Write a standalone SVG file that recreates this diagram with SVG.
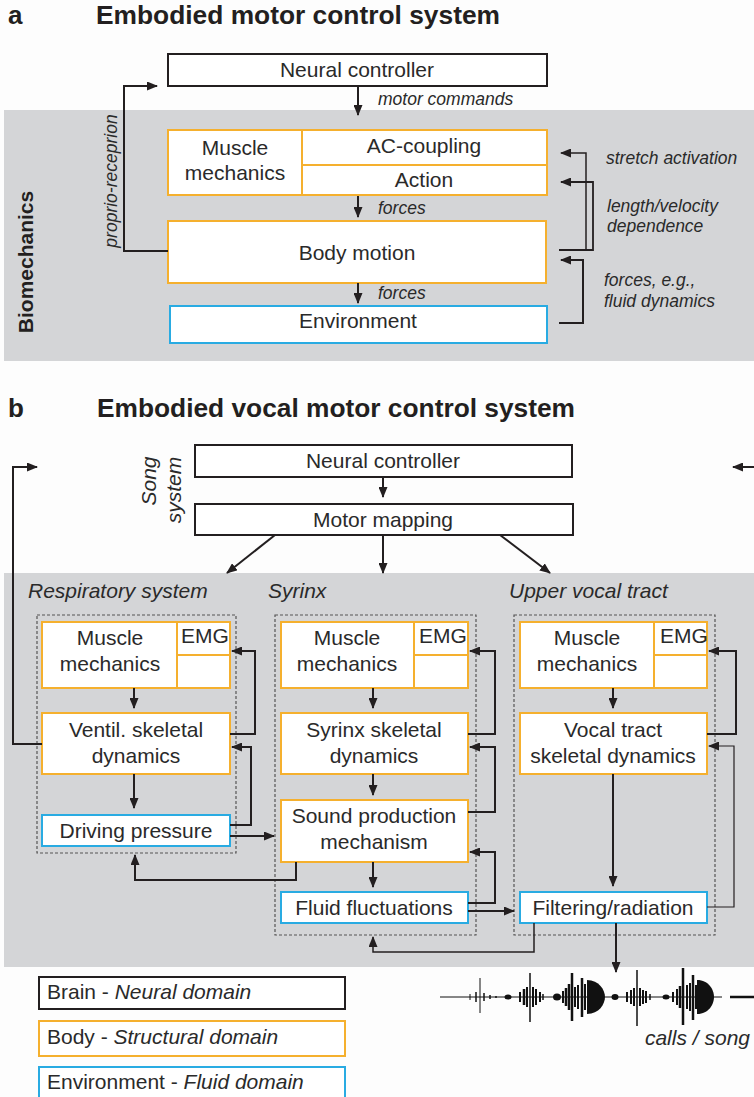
<svg xmlns="http://www.w3.org/2000/svg" width="754" height="1097" viewBox="0 0 754 1097">
<defs>
<marker id="ah" markerUnits="userSpaceOnUse" markerWidth="11" markerHeight="9" refX="10" refY="4.5" orient="auto"><path d="M0,0 L11,4.5 L0,9 z" fill="#231f20"/></marker>
<style>
.bx{fill:#fff;stroke-width:2}
.k{stroke:#231f20}
.o{stroke:#f5b02e}
.bl{stroke:#29abe2}
.dash{fill:none;stroke:#555;stroke-width:1.2;stroke-dasharray:3 2}
.t{font-family:"Liberation Sans",Arial,sans-serif;font-size:21px;fill:#2a2a2a;text-anchor:middle}
.s{font-family:"Liberation Sans",Arial,sans-serif;font-size:17.5px;fill:#2a2a2a;font-style:italic}
.h{font-family:"Liberation Sans",Arial,sans-serif;font-weight:bold;fill:#231f20}
.it{font-style:italic}
.c path{fill:none;stroke:#231f20;stroke-width:2}
.c .arr{marker-end:url(#ah)}
.w line{stroke:#111}
</style>
</defs>
<rect width="754" height="1097" fill="#fdfdfd"/>
<!-- panels -->
<rect x="4" y="110" width="750" height="251" fill="#d4d5d7"/>
<rect x="4" y="573" width="750" height="394" fill="#d4d5d7"/>

<!-- part a headings -->
<text class="h" x="8" y="24" font-size="26">a</text>
<text class="h" x="96" y="24" font-size="25" textLength="404" lengthAdjust="spacingAndGlyphs">Embodied motor control system</text>
<text class="h" font-size="21" transform="translate(33,262) rotate(-90)" text-anchor="middle">Biomechanics</text>
<text class="s" transform="translate(117,181) rotate(-90)" text-anchor="middle">proprio-receprion</text>

<g id="a-neural"><rect class="bx k" x="168" y="54" width="379" height="32"/><text class="t" x="357" y="77">Neural controller</text></g>
<g id="a-muscle"><rect class="bx o" x="168" y="130" width="134" height="65"/><text class="t" x="235" y="155">Muscle</text><text class="t" x="235" y="180">mechanics</text></g>
<g id="a-ac"><rect class="bx o" x="302" y="130" width="245" height="35"/><text class="t" x="424" y="153">AC-coupling</text></g>
<g id="a-action"><rect class="bx o" x="302" y="165" width="245" height="30"/><text class="t" x="424" y="187">Action</text></g>
<g id="a-body"><rect class="bx o" x="168" y="221" width="378" height="62"/><text class="t" x="357" y="260">Body motion</text></g>
<g id="a-env"><rect class="bx bl" x="170" y="306" width="377" height="37"/><text class="t" x="358" y="328">Environment</text></g>

<g id="a-labels">
<text class="s" x="378" y="105">motor commands</text>
<text class="s" x="378" y="214">forces</text>
<text class="s" x="378" y="299">forces</text>
<text class="s" x="606" y="164">stretch activation</text>
<text class="s" x="607" y="212">length/velocity</text>
<text class="s" x="607" y="232">dependence</text>
<text class="s" x="604" y="286">forces, e.g.,</text>
<text class="s" x="604" y="307">fluid dynamics</text>
</g>

<g id="a-connectors" class="c">
<path class="arr" d="M358,86 V115"/>
<path class="arr" d="M358,196 V217"/>
<path class="arr" d="M358,283 V303"/>
<path class="arr" d="M168,251 H124 V86 H157"/>
<path class="arr" d="M559,250 H593 V182 H561" style="stroke-width:1.8"/>
<path class="arr" d="M586,250 V153 H561" style="stroke-width:1.5"/>
<path class="arr" d="M559,323 H583 V260 H561"/>
</g>

<!-- part b headings -->
<text class="h" x="8" y="417" font-size="26">b</text>
<text class="h" x="97" y="417" font-size="25" textLength="478" lengthAdjust="spacingAndGlyphs">Embodied vocal motor control system</text>
<text class="t it" transform="translate(156,481) rotate(-90)">Song</text>
<text class="t it" transform="translate(181,490) rotate(-90)">system</text>

<g id="b-neural"><rect class="bx k" x="195" y="445" width="377" height="32"/><text class="t" x="383" y="468">Neural controller</text></g>
<g id="b-motor"><rect class="bx k" x="195" y="504" width="378" height="31"/><text class="t" x="383" y="527">Motor mapping</text></g>

<text class="t it" x="28" y="598" style="text-anchor:start">Respiratory system</text>
<text class="t it" x="268" y="598" style="text-anchor:start">Syrinx</text>
<text class="t it" x="509" y="598" style="text-anchor:start">Upper vocal tract</text>

<rect class="dash" x="37" y="615" width="199" height="238"/>
<rect class="dash" x="275" y="615" width="201" height="320"/>
<rect class="dash" x="514" y="615" width="201" height="320"/>

<!-- respiratory -->
<g id="r-muscle"><rect class="bx o" x="42" y="622" width="135" height="66"/><rect class="bx o" x="177" y="622" width="53" height="33"/><rect class="bx o" x="177" y="655" width="53" height="33"/><text class="t" x="110" y="645">Muscle</text><text class="t" x="110" y="671">mechanics</text><text class="t" x="205" y="643" font-size="17">EMG</text></g>
<g id="r-ventil"><rect class="bx o" x="42" y="713" width="188" height="61"/><text class="t" x="136" y="737">Ventil. skeletal</text><text class="t" x="136" y="763">dynamics</text></g>
<g id="r-driving"><rect class="bx bl" x="42" y="815" width="188" height="31"/><text class="t" x="136" y="838">Driving pressure</text></g>

<!-- syrinx -->
<g id="s-muscle"><rect class="bx o" x="281" y="622" width="133" height="66"/><rect class="bx o" x="414" y="622" width="54" height="33"/><rect class="bx o" x="414" y="655" width="54" height="33"/><text class="t" x="347" y="645">Muscle</text><text class="t" x="347" y="671">mechanics</text><text class="t" x="443" y="643" font-size="17">EMG</text></g>
<g id="s-skel"><rect class="bx o" x="281" y="713" width="187" height="61"/><text class="t" x="374" y="737">Syrinx skeletal</text><text class="t" x="374" y="763">dynamics</text></g>
<g id="s-sound"><rect class="bx o" x="281" y="800" width="187" height="62"/><text class="t" x="374" y="823">Sound production</text><text class="t" x="374" y="849">mechanism</text></g>
<g id="s-fluid"><rect class="bx bl" x="281" y="892" width="187" height="31"/><text class="t" x="374" y="915">Fluid fluctuations</text></g>

<!-- upper vocal tract -->
<g id="u-muscle"><rect class="bx o" x="520" y="622" width="134" height="66"/><rect class="bx o" x="654" y="622" width="53" height="33"/><rect class="bx o" x="654" y="655" width="53" height="33"/><text class="t" x="587" y="645">Muscle</text><text class="t" x="587" y="671">mechanics</text><text class="t" x="684" y="643" font-size="17">EMG</text></g>
<g id="u-vocal"><rect class="bx o" x="520" y="713" width="187" height="61"/><text class="t" x="613" y="737">Vocal tract</text><text class="t" x="613" y="763">skeletal dynamics</text></g>
<g id="u-filter"><rect class="bx bl" x="520" y="892" width="187" height="31"/><text class="t" x="613" y="915">Filtering/radiation</text></g>

<g id="b-connectors" class="c">
<path class="arr" d="M383,477 V497"/>
<path class="arr" d="M275,535 L227,573"/>
<path class="arr" d="M383,535 V573"/>
<path class="arr" d="M500,535 L550,573"/>
<path class="arr" d="M754,467 H733"/>
<path class="arr" d="M42,744 H13 V467 H37"/>
<path class="arr" d="M134,688 V708"/>
<path class="arr" d="M134,774 V808"/>
<path class="arr" d="M230,734 H255 V651 H232"/>
<path class="arr" d="M230,825 H251 V747 H232"/>
<path class="arr" d="M230,836 H274"/>
<path class="arr" d="M296,862 V880 H135 V855"/>
<path class="arr" d="M373,688 V708"/>
<path class="arr" d="M373,774 V795"/>
<path class="arr" d="M373,862 V887"/>
<path class="arr" d="M468,734 H495 V651 H470"/>
<path class="arr" d="M468,812 H495 V747 H470"/>
<path class="arr" d="M468,903 H495 V852 H470"/>
<path class="arr" d="M468,911 H514"/>
<path class="arr" d="M534,923 V952 H373 V937" style="stroke-width:1.5"/>
<path class="arr" d="M613,688 V708"/>
<path class="arr" d="M613,774 V886"/>
<path class="arr" d="M707,734 H736 V651 H709"/>
<path class="arr" d="M707,907 H734 V746 H709" style="stroke-width:1.2"/>
<path class="arr" d="M616,923 V972"/>
</g>

<!-- waveform -->
<g id="waveform" class="w">
<line x1="440" y1="997" x2="722" y2="997" stroke-width="1"/>
<line x1="730" y1="997" x2="754" y2="997" stroke-width="2.5"/>
<line x1="470" y1="994" x2="470" y2="1000" stroke-width="1"/>
<line x1="476" y1="992" x2="476" y2="1002" stroke-width="1.5"/>
<line x1="480" y1="978" x2="480" y2="1013" stroke-width="1"/>
<line x1="484" y1="993" x2="484" y2="1001" stroke-width="1.5"/>
<line x1="490" y1="995" x2="490" y2="999" stroke-width="1.5"/>
<line x1="496" y1="996" x2="496" y2="998" stroke-width="1.5"/>
<ellipse cx="508" cy="997" rx="3.5" ry="2.5" fill="#111"/>
<line x1="520" y1="992" x2="520" y2="1002" stroke-width="2"/>
<line x1="524" y1="989" x2="524" y2="1005" stroke-width="2.5"/>
<line x1="527" y1="987" x2="527" y2="1007" stroke-width="2"/>
<line x1="530" y1="973" x2="530" y2="1022" stroke-width="1.5"/>
<line x1="533" y1="987" x2="533" y2="1007" stroke-width="2"/>
<line x1="536" y1="989" x2="536" y2="1005" stroke-width="2"/>
<line x1="540" y1="992" x2="540" y2="1002" stroke-width="2"/>
<line x1="543" y1="994" x2="543" y2="1000" stroke-width="1.5"/>
<ellipse cx="557" cy="997" rx="4" ry="3.5" fill="#111"/>
<line x1="563" y1="991" x2="563" y2="1003" stroke-width="2"/>
<line x1="566" y1="988" x2="566" y2="1006" stroke-width="2.5"/>
<line x1="569" y1="984" x2="569" y2="1010" stroke-width="2.5"/>
<line x1="572" y1="973" x2="572" y2="1021" stroke-width="2.5"/>
<line x1="575" y1="987" x2="575" y2="1007" stroke-width="2"/>
<line x1="578" y1="985" x2="578" y2="1009" stroke-width="2"/>
<line x1="582" y1="978" x2="582" y2="1017" stroke-width="2.5"/>
<line x1="585" y1="984" x2="585" y2="1010" stroke-width="2"/>
<path d="M587,980 C599,980 605,990 605,997 C605,1004 599,1014 587,1014 Z" fill="#111"/>
<ellipse cx="615" cy="997" rx="3.5" ry="3" fill="#111"/>
<line x1="627" y1="992" x2="627" y2="1002" stroke-width="2"/>
<line x1="631" y1="990" x2="631" y2="1004" stroke-width="2"/>
<line x1="634" y1="988" x2="634" y2="1006" stroke-width="2"/>
<line x1="637" y1="970" x2="637" y2="1026" stroke-width="1.5"/>
<line x1="640" y1="988" x2="640" y2="1006" stroke-width="2"/>
<line x1="643" y1="990" x2="643" y2="1004" stroke-width="2"/>
<line x1="646" y1="991" x2="646" y2="1003" stroke-width="2"/>
<line x1="650" y1="994" x2="650" y2="1000" stroke-width="1.5"/>
<ellipse cx="666" cy="997" rx="3.5" ry="2.5" fill="#111"/>
<line x1="673" y1="992" x2="673" y2="1002" stroke-width="2"/>
<line x1="677" y1="989" x2="677" y2="1005" stroke-width="2"/>
<line x1="680" y1="986" x2="680" y2="1008" stroke-width="2.5"/>
<line x1="683" y1="968" x2="683" y2="1025" stroke-width="2.5"/>
<line x1="687" y1="985" x2="687" y2="1009" stroke-width="2"/>
<line x1="690" y1="983" x2="690" y2="1011" stroke-width="2"/>
<line x1="693" y1="975" x2="693" y2="1020" stroke-width="2.5"/>
<line x1="696" y1="985" x2="696" y2="1009" stroke-width="2"/>
<path d="M697,980 C709,980 714,990 714,997 C714,1004 709,1014 697,1014 Z" fill="#111"/>
</g>
<text class="t it" x="750" y="1045" style="text-anchor:end">calls / song</text>

<!-- legend -->
<g id="legend-brain"><rect class="bx k" x="39" y="977" width="306" height="32"/><text class="t" x="47" y="999" style="text-anchor:start">Brain - <tspan font-style="italic">Neural domain</tspan></text></g>
<g id="legend-body"><rect class="bx o" x="39" y="1021" width="306" height="35"/><text class="t" x="47" y="1044" style="text-anchor:start">Body - <tspan font-style="italic">Structural domain</tspan></text></g>
<g id="legend-env"><rect class="bx bl" x="39" y="1067" width="306" height="34"/><text class="t" x="47" y="1089" style="text-anchor:start">Environment - <tspan font-style="italic">Fluid domain</tspan></text></g>
</svg>
